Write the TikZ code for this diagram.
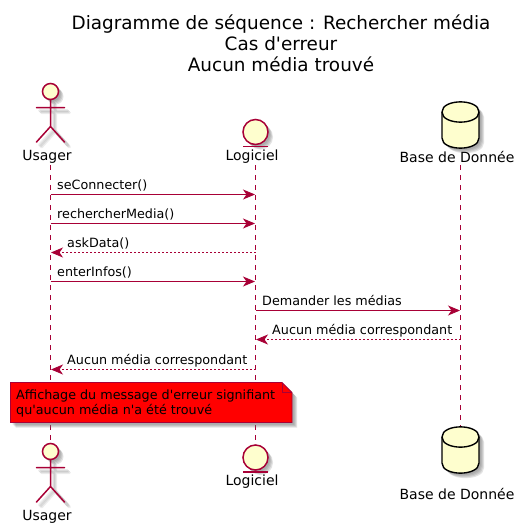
\documentclass[tikz,border=0pt]{standalone}
\usepackage{fontspec}
\setmainfont[Ligatures=TeXOff]{DejaVu Sans}
\usetikzlibrary{arrows.meta}
\definecolor{umlred}{HTML}{A80036}
\definecolor{umlfill}{HTML}{FEFECE}
\tikzset{
  x=1pt,y=-1pt,
  lifeline/.style={draw=umlred,line width=.7pt,dash pattern=on 5pt off 5pt},
  msg/.style={draw=umlred,line width=.9pt,-{Stealth[length=12pt,width=10pt,inset=3.5pt,fill=umlred]},shorten >=.5pt},
  reply/.style={draw=umlred,line width=.8pt,dash pattern=on 2pt off 2pt,-{Stealth[length=12pt,width=10pt,inset=3.5pt,fill=umlred]},shorten >=.5pt},
  lbl/.style={font=\fontsize{14}{16}\selectfont,inner sep=0pt,text=black},
  msglbl/.style={font=\fontsize{12.75}{15}\selectfont,inner sep=0pt,text=black,anchor=base west},
  ttl/.style={font=\fontsize{18.4}{20.6}\selectfont,align=center,inner sep=0pt},
  shape line/.style={draw=umlred,line width=1.5pt,fill=umlfill},
  stick/.style={draw=umlred,line width=1.5pt,line cap=round},
  shade1/.style={fill=black!55,draw=none,opacity=.2},
  shadeline/.style={draw=black,opacity=.07,line width=3pt,line cap=round},
  notebox/.style={draw=umlred,line width=.9pt,fill=red},
}
\newcommand{\actorfig}[1]{%
  \begin{scope}[shift={(50.5,#1)}]
    \foreach \dd in {3,4,5}{\draw[shadeline,shift={(\dd,\dd)}] (-14,16) -- (14,16) (0,8) -- (0,35) (-14,50.5) -- (0,35) -- (14,50.5);}
    \foreach \dd in {2,3,4,5}{\fill[shade1,shift={(\dd,\dd)}] (0,0) circle (8);}
    \draw[shape line] (0,0) circle (8);
    \draw[stick] (0,8) -- (0,35) (-14,16) -- (14,16) (-14,50.5) -- (0,35) -- (14,50.5);
  \end{scope}}
\newcommand{\entityfig}[1]{%
  \begin{scope}[shift={(255.5,#1)}]
    \foreach \dd in {2,3,4,5}{\fill[shade1,shift={(\dd,\dd)}] (0,0) circle (12.5);}
    \draw[shape line] (0,0) circle (12.5);
    \draw[stick,line cap=butt] (-12.5,14.5) -- (12.5,14.5);
  \end{scope}}
\newcommand{\dbfig}[1]{%
  \begin{scope}[shift={(460.5,#1)}]
    \foreach \dd in {2,3,4,5}{\fill[shade1,shift={(\dd,\dd)}] (-18.5,10) .. controls (-18.5,-3.5) and (18.5,-3.5) .. (18.5,10) -- (18.5,36) .. controls (18.5,49.5) and (-18.5,49.5) .. (-18.5,36) -- cycle;}
    \filldraw[draw=black,line width=1.4pt,fill=umlfill] (-18.5,10) .. controls (-18.5,-3.5) and (18.5,-3.5) .. (18.5,10) -- (18.5,36) .. controls (18.5,49.5) and (-18.5,49.5) .. (-18.5,36) -- cycle;
    \draw[draw=black,line width=1.4pt] (-18.5,10) .. controls (-18.5,23.5) and (18.5,23.5) .. (18.5,10);
  \end{scope}}
\begin{document}
\begin{tikzpicture}
\useasboundingbox (0,0) rectangle (521,528);
\fill[white] (0,0) rectangle (521,528);

\node[ttl] (title) at (281,43.2) {Diagramme de séquence : Rechercher média\\Cas d'erreur\\Aucun média trouvé};

% lifelines
\coordinate (uTop) at (50.5,165);
\coordinate (uBot) at (50.5,441);
\coordinate (lTop) at (255.5,165);
\coordinate (lBot) at (255.5,445);
\coordinate (bTop) at (460.5,165);
\coordinate (bBot) at (460.5,428);
\draw[lifeline] (uTop) -- (uBot);
\draw[lifeline] (lTop) -- (lBot);
\draw[lifeline] (bTop) -- (bBot);

% participants, top
\actorfig{91.5}
\entityfig{132}
\dbfig{102}
\node[lbl] (usagerT) at (47,157) {Usager};
\node[lbl] (logicielT) at (252,157) {Logiciel};
\node[lbl] (baseT) at (457,157) {Base de Donnée};

% participants, bottom
\actorfig{451.5}
\entityfig{457.5}
\dbfig{427}
\node[lbl] (usagerB) at (47,516.5) {Usager};
\node[lbl] (logicielB) at (252,481.5) {Logiciel};
\node[lbl] (baseB) at (457,494) {Base de Donnée};

% messages
\foreach \n/\yy in {a/194.5,b/223.5,c/252.5,d/281.5,e/310.5,f/339.5,g/369.5}{
  \coordinate (u\n) at (50.5,\yy);
  \coordinate (l\n) at (255.5,\yy);
  \coordinate (b\n) at (460.5,\yy);
}
\draw[msg] (ua) -- (la);
\node[msglbl] (m1) at (57,189.5) {seConnecter()};
\draw[msg] (ub) -- (lb);
\node[msglbl] (m2) at (57,218.5) {rechercherMedia()};
\draw[reply] (lc) -- (uc);
\node[msglbl] (m3) at (67,247.5) {askData()};
\draw[msg] (ud) -- (ld);
\node[msglbl] (m4) at (57,276.5) {enterInfos()};
\draw[msg] (le) -- (be);
\node[msglbl] (m5) at (262,305.5) {Demander les médias};
\draw[reply] (bf) -- (lf);
\node[msglbl] (m6) at (272,334.5) {Aucun média correspondant};
\draw[reply] (lg) -- (ug);
\node[msglbl] (m7) at (67,364.5) {Aucun média correspondant};

% note
\foreach \dd in {2,3,4,5}{\fill[shade1,shift={(\dd,\dd)}] (10.5,382.5) -- (282,382.5) -- (292,392.5) -- (292,422.5) -- (10.5,422.5) -- cycle;}
\draw[notebox] (10.5,382.5) -- (282,382.5) -- (292,392.5) -- (292,422.5) -- (10.5,422.5) -- cycle;
\draw[draw=umlred,line width=.9pt] (282,382.5) -- (282,392.5) -- (292,392.5);
\node[msglbl] (noteA) at (16,399.5) {Affichage du message d'erreur signifiant};
\node[msglbl] (noteB) at (16,414.5) {qu'aucun média n'a été trouvé};
\end{tikzpicture}
\end{document}
